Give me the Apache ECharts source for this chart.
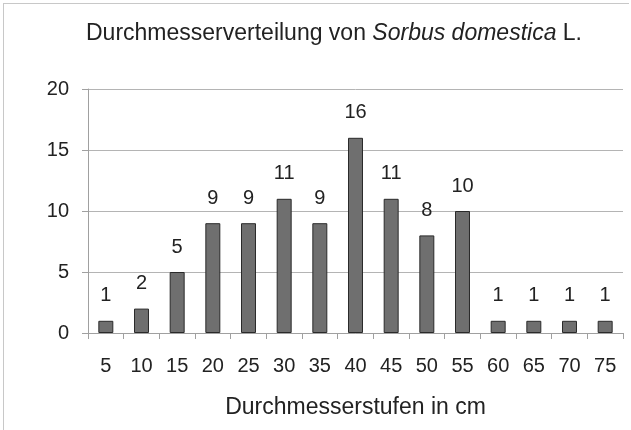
<!DOCTYPE html>
<html><head><meta charset="utf-8">
<script src="https://cdn.jsdelivr.net/npm/echarts@6/dist/echarts.min.js"></script>
<style>html,body{margin:0;padding:0;background:#fff}#c{width:631px;height:430px}</style>
</head><body><div id="c"></div>
<script>
var categories = ['5','10','15','20','25','30','35','40','45','50','55','60','65','70','75'];
var counts = [1,2,5,9,9,11,9,16,11,8,10,1,1,1,1];
var yTicks = {min:0, max:20, interval:5};
var chart = echarts.init(document.getElementById('c'), null, {renderer:'canvas'});
var F = 'Liberation Sans, Arial, sans-serif';
chart.setOption({
  animation:false,
  backgroundColor:'#fff',
  graphic:[
    {type:'line', shape:{x1:3,y1:3.5,x2:629,y2:3.5}, style:{stroke:'#c8c8c8', lineWidth:1}},
    {type:'line', shape:{x1:3.5,y1:3,x2:3.5,y2:430}, style:{stroke:'#c8c8c8', lineWidth:1}}
  ],
  title:{
    text:'{n|Durchmesserverteilung von }{i|Sorbus domestica}{n| L.}',
    left:81, top:17,
    textStyle:{fontWeight:'normal', rich:{
      n:{fontFamily:F, fontSize:23, color:'#222', fontWeight:'normal'},
      i:{fontFamily:F, fontSize:23, color:'#222', fontStyle:'italic', fontWeight:'normal'}
    }}
  },
  grid:{left:88, right:8, top:89, bottom:97},
  xAxis:{
    type:'category', data:categories,
    name:'Durchmesserstufen in cm', nameLocation:'middle', nameGap:63,
    nameTextStyle:{fontFamily:F, fontSize:23, color:'#222'},
    axisLine:{lineStyle:{color:'#a0a0a0', width:1}},
    axisTick:{show:true, length:6, lineStyle:{color:'#a0a0a0'}},
    axisLabel:{fontFamily:F, fontSize:20, color:'#222', margin:23, interval:0}
  },
  yAxis:{
    type:'value', min:yTicks.min, max:yTicks.max, interval:yTicks.interval,
    axisLine:{show:true, lineStyle:{color:'#a0a0a0', width:1}},
    axisTick:{show:true, length:6, lineStyle:{color:'#a0a0a0'}},
    axisLabel:{fontFamily:F, fontSize:20, color:'#222', margin:19},
    splitLine:{lineStyle:{color:'#b4b4b4', width:1}}
  },
  series:[{
    type:'bar', data:counts, barWidth:'42%',
    itemStyle:{color:'#6f6f6f', borderColor:'#2a2a2a', borderWidth:1},
    label:{show:true, position:'top', distance:15, fontFamily:F, fontSize:20, color:'#222'}
  }]
});
</script></body></html>
